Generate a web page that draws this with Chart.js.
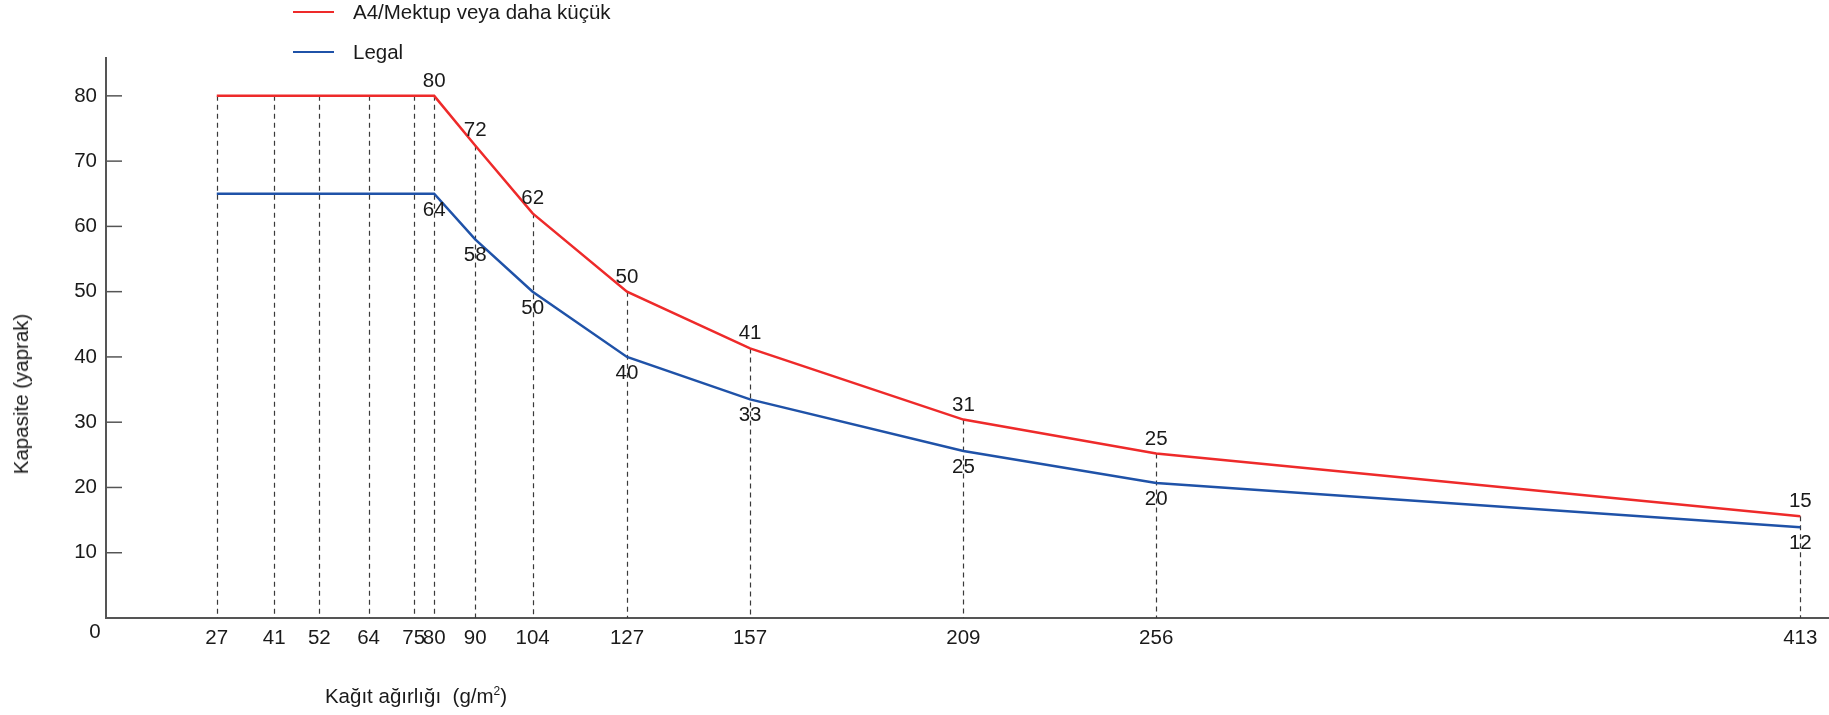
<!DOCTYPE html>
<html lang="tr">
<head>
<meta charset="utf-8">
<script src="https://cdn.jsdelivr.net/npm/chart.js@4.4.1/dist/chart.umd.min.js"></script>
<style>
    body { margin: 0; background: #fff; font-family: 'Liberation Sans', Arial, sans-serif; color: #1a1a1a; }
    #wrap { position: relative; width: 1829px; height: 715px; overflow: hidden; }
    #chart { position: absolute; left: 0; top: 0; }
    .legend-row { position: absolute; left: 293px; height: 24px; display: flex; align-items: center; font-size: 20.5px; }
    .legend-row .swatch { width: 41px; height: 2.5px; margin-right: 19px; }
    #ytitle { position: absolute; left: 21px; top: 394px; font-size: 20.5px; white-space: nowrap; transform: translate(-50%, -50%) rotate(-90deg); }
    #xtitle { position: absolute; left: 416px; top: 696px; font-size: 20.5px; white-space: nowrap; transform: translate(-50%, -50%); }
    #xtitle sup { font-size: 12px; }
</style>
</head>
<body>
<div id="wrap">
    <canvas id="chart" width="1829" height="715"></canvas>
    <div id="legend"></div>
    <div id="ytitle">Kapasite (yaprak)</div>
    <div id="xtitle">Kağıt ağırlığı&nbsp; (g/m<sup>2</sup>)</div>
</div>
<script>
// Paper weight (g/m2) on the x axis
const weights = [27, 41, 52, 64, 75, 80, 90, 104, 127, 157, 209, 256, 413];

// Capacity (sheets), as drawn
const a4Values = [80, 80, 80, 80, 80, 80, 72.4, 62, 50, 41.3, 30.4, 25.2, 15.6];
const legalValues = [65, 65, 65, 65, 65, 65, 58, 50, 40, 33.5, 25.6, 20.7, 13.9];

// Numbers printed next to the lines
const a4Labels = ['', '', '', '', '', '80', '72', '62', '50', '41', '31', '25', '15'];
const legalLabels = ['', '', '', '', '', '64', '58', '50', '40', '33', '25', '20', '12'];

const seriesNames = ['A4/Mektup veya daha küçük', 'Legal'];
const yTicks = [10, 20, 30, 40, 50, 60, 70, 80];

const textColor = '#1a1a1a';
const axisColor = '#555555';
const fontSpec = { family: "'Liberation Sans', Arial, sans-serif", size: 20.5 };

// dashed drop lines, inner y ticks, point labels
const decorPlugin = {
    id: 'decor',
    beforeDatasetsDraw(chart) {
        const ctx = chart.ctx;
        const xs = chart.scales.x, ys = chart.scales.y;
        ctx.save();
        ctx.setLineDash([5, 4]);
        ctx.lineWidth = 1.2;
        ctx.strokeStyle = '#3a3a3a';
        weights.forEach((w, i) => {
            const px = Math.round(xs.getPixelForValue(w)) + 0.5;
            const top = ys.getPixelForValue(Math.max(a4Values[i], legalValues[i]));
            ctx.beginPath();
            ctx.moveTo(px, top);
            ctx.lineTo(px, ys.bottom);
            ctx.stroke();
        });
        ctx.restore();
    },
    afterDraw(chart) {
        const ctx = chart.ctx;
        const xs = chart.scales.x, ys = chart.scales.y;
        const area = chart.chartArea;
        ctx.save();

        // tick marks on the inside of the y axis
        ctx.strokeStyle = axisColor;
        ctx.lineWidth = 1.5;
        yTicks.forEach(v => {
            const py = ys.getPixelForValue(v);
            ctx.beginPath();
            ctx.moveTo(area.left, py);
            ctx.lineTo(area.left + 16, py);
            ctx.stroke();
        });

        ctx.fillStyle = textColor;
        ctx.font = "20.5px 'Liberation Sans', Arial, sans-serif";
        ctx.textAlign = 'center';
        ctx.textBaseline = 'alphabetic';

        // shared origin label
        ctx.fillText('0', area.left - 11, area.bottom + 20);

        weights.forEach((w, i) => {
            const px = xs.getPixelForValue(w);
            if (a4Labels[i]) {
                ctx.fillText(a4Labels[i], px, ys.getPixelForValue(a4Values[i]) - 9);
            }
            if (legalLabels[i]) {
                ctx.fillText(legalLabels[i], px, ys.getPixelForValue(legalValues[i]) + 22);
            }
        });
        ctx.restore();
    }
};

const chart = new Chart(document.getElementById('chart'), {
    type: 'line',
    data: {
        datasets: [
            {
                label: seriesNames[0],
                data: weights.map((w, i) => ({ x: w, y: a4Values[i] })),
                borderColor: '#ee2a2a',
                borderWidth: 2.5,
                pointRadius: 0,
                tension: 0
            },
            {
                label: seriesNames[1],
                data: weights.map((w, i) => ({ x: w, y: legalValues[i] })),
                borderColor: '#1f52a8',
                borderWidth: 2.5,
                pointRadius: 0,
                tension: 0
            }
        ]
    },
    options: {
        responsive: false,
        animation: false,
        layout: { padding: { top: 58, right: 0, left: 0, bottom: 0 } },
        plugins: {
            legend: { display: false },
            tooltip: { enabled: false }
        },
        scales: {
            x: {
                type: 'linear',
                min: 0,
                max: 420,
                grid: { display: false, drawTicks: false },
                border: { display: true, color: axisColor, width: 2 },
                ticks: { color: textColor, font: fontSpec, padding: 8, autoSkip: false, maxRotation: 0 },
                afterBuildTicks: s => { s.ticks = weights.map(v => ({ value: v })); },
                afterFit: s => { s.height = 97; }
            },
            y: {
                min: 0,
                max: 85.8,
                grid: { display: false, drawTicks: false },
                border: { display: true, color: axisColor, width: 2 },
                ticks: { color: textColor, font: fontSpec, padding: 9 },
                afterBuildTicks: s => { s.ticks = yTicks.map(v => ({ value: v })); },
                afterFit: s => { s.width = 106; }
            }
        }
    },
    plugins: [decorPlugin]
});

// legend built from the datasets, stacked vertically
const legend = document.getElementById('legend');
chart.data.datasets.forEach((ds, i) => {
    const row = document.createElement('div');
    row.className = 'legend-row';
    row.style.top = (i === 0 ? 0 : 40) + 'px';
    row.innerHTML = `<span class="swatch" style="background:${ds.borderColor}"></span><span>${ds.label}</span>`;
    legend.appendChild(row);
});
</script>
</body>
</html>
